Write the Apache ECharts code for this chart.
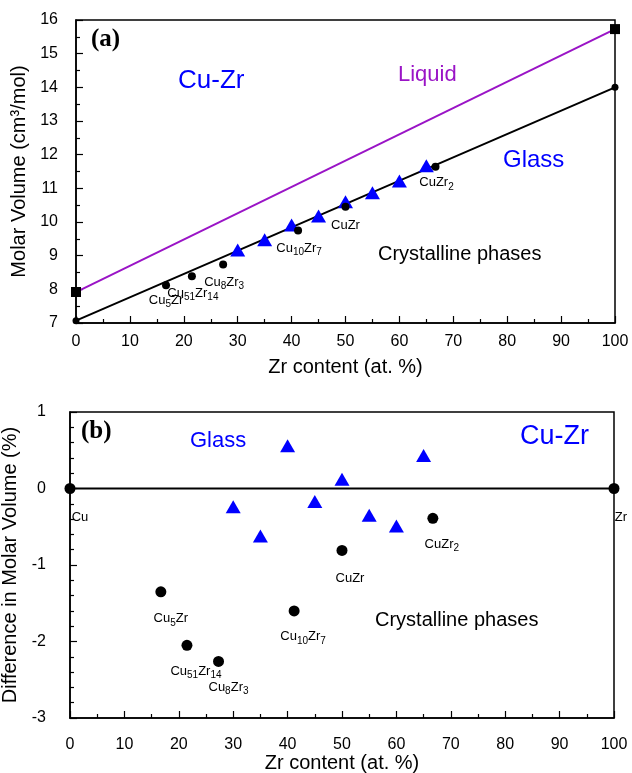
<!DOCTYPE html>
<html>
<head>
<meta charset="utf-8">
<script src="https://cdn.jsdelivr.net/npm/echarts@6/dist/echarts.min.js"></script>
<style>html,body{margin:0;padding:0;background:#fff}#c{width:632px;height:773px}</style>
</head>
<body>
<div id="c"></div>
<script>
// ---- data ----
const xTicks = [0,10,20,30,40,50,60,70,80,90,100];
const elemX = [0, 100];
const elemNames = ['Cu', 'Zr'];
const liquidVol = [7.92, 15.73];
const glassLineVol = [7.07, 14.0];
const elemDiff = [0, 0];

const glassX = [30, 35, 40, 45, 50, 55, 60, 65];
const glassVol = [9.17, 9.47, 9.91, 10.18, 10.60, 10.87, 11.22, 11.67];
const glassDiff = [-0.24, -0.62, 0.56, -0.17, 0.12, -0.35, -0.49, 0.43];

const phaseNames = ['Cu{s|5}Zr', 'Cu{s|51}Zr{s|14}', 'Cu{s|8}Zr{s|3}', 'Cu{s|10}Zr{s|7}', 'CuZr', 'CuZr{s|2}'];
const phaseX = [16.7, 21.5, 27.3, 41.2, 50.0, 66.7];
const phaseVol = [8.12, 8.39, 8.74, 9.75, 10.45, 11.64];
const phaseDiff = [-1.35, -2.05, -2.26, -1.60, -0.81, -0.39];

// label offsets (layout only)
const topLabelOff = [[0,15],[1,17],[1,18],[1,18],[0,19],[1,16]];
const botLabelOff = [[10,27],[9,26],[10,26],[9,26],[8,28],[9,26]];
const elemLabelOff = [[10,29],[7,29]];

const FONT = 'Liberation Sans, Arial, sans-serif';
const SERIF = 'Liberation Serif, Times New Roman, serif';
const BLUE = '#0000ff';
const PURPLE = '#9a14c6';

const rich = {
  s: { fontSize: 10, fontFamily: FONT, color: '#000', padding: [8, 0, 0, 0] }
};

function xAxisCfg(gi, margin, gap) {
  return {
    gridIndex: gi, type: 'value', min: 0, max: 100, interval: 10,
    name: 'Zr content (at. %)', nameLocation: 'middle', nameGap: gap,
    nameTextStyle: { fontFamily: FONT, fontSize: 20, color: '#000' },
    axisLine: { onZero: false, lineStyle: { color: '#000', width: 1.5 } },
    axisTick: { inside: true, length: 7, lineStyle: { color: '#000', width: 1.2 } },
    minorTick: { show: true, splitNumber: 2, length: 4, lineStyle: { color: '#000', width: 1.2 } },
    axisLabel: { fontFamily: FONT, fontSize: 16, color: '#000', margin: margin },
    splitLine: { show: false }
  };
}

function yAxisCfg(gi, min, max, name, gap, minorSplit, margin) {
  return {
    gridIndex: gi, type: 'value', min: min, max: max, interval: 1,
    name: name, nameLocation: 'middle', nameGap: gap,
    nameTextStyle: { fontFamily: FONT, fontSize: 20, color: '#000' },
    axisLine: { onZero: false, lineStyle: { color: '#000', width: 1.5 } },
    axisTick: { inside: true, length: 7, lineStyle: { color: '#000', width: 1.2 } },
    minorTick: { show: true, splitNumber: minorSplit, length: 4, lineStyle: { color: '#000', width: 1.2 } },
    axisLabel: { fontFamily: FONT, fontSize: 16, color: '#000', margin: margin },
    splitLine: { show: false }
  };
}

const solid = (c) => ({ color: c, opacity: 1 });

const chart = echarts.init(document.getElementById('c'), null, { renderer: 'canvas' });
chart.setOption({
  animation: false,
  backgroundColor: '#fff',
  grid: [
    { left: 76, top: 20, width: 539, height: 303, show: true, borderColor: '#000', borderWidth: 1.5, outerBoundsMode: 'none', containLabel: false },
    { left: 70, top: 412, width: 544, height: 306, show: true, borderColor: '#000', borderWidth: 1.5, outerBoundsMode: 'none', containLabel: false }
  ],
  xAxis: [ xAxisCfg(0, 11, 34), xAxisCfg(1, 19, 34) ],
  yAxis: [
    yAxisCfg(0, 7, 16, 'Molar Volume (cm³/mol)', 43, 2, 18),
    yAxisCfg(1, -3, 1, 'Difference in Molar Volume (%)', 37, 5, 24)
  ],
  series: [
    // ---- panel (a) ----
    { type: 'line', xAxisIndex: 0, yAxisIndex: 0, data: elemX.map((x, i) => [x, liquidVol[i]]),
      symbol: 'none', lineStyle: { color: PURPLE, width: 2 }, z: 2 },
    { type: 'line', xAxisIndex: 0, yAxisIndex: 0, data: elemX.map((x, i) => [x, glassLineVol[i]]),
      symbol: 'none', lineStyle: { color: '#000', width: 2 }, z: 2 },
    { type: 'scatter', xAxisIndex: 0, yAxisIndex: 0, data: elemX.map((x, i) => [x, liquidVol[i]]),
      symbol: 'rect', symbolSize: 10, itemStyle: solid('#000'), z: 5 },
    { type: 'scatter', xAxisIndex: 0, yAxisIndex: 0, data: elemX.map((x, i) => [x, glassLineVol[i]]),
      symbol: 'circle', symbolSize: 7, itemStyle: solid('#000'), z: 5 },
    { type: 'scatter', xAxisIndex: 0, yAxisIndex: 0, data: glassX.map((x, i) => [x, glassVol[i]]),
      symbol: 'triangle', symbolSize: [15, 13], itemStyle: solid(BLUE), z: 4 },
    { type: 'scatter', xAxisIndex: 0, yAxisIndex: 0,
      data: phaseX.map((x, i) => ({ value: [x, phaseVol[i]],
        label: { show: true, formatter: phaseNames[i], position: 'inside', offset: topLabelOff[i] } })),
      symbol: 'circle', symbolSize: 8, itemStyle: solid('#000'), z: 5,
      label: { fontFamily: FONT, fontSize: 13, color: '#000', rich: rich } },
    // ---- panel (b) ----
    { type: 'line', xAxisIndex: 1, yAxisIndex: 1, data: elemX.map((x, i) => [x, elemDiff[i]]),
      symbol: 'none', lineStyle: { color: '#000', width: 2 }, z: 2 },
    { type: 'scatter', xAxisIndex: 1, yAxisIndex: 1,
      data: elemX.map((x, i) => ({ value: [x, elemDiff[i]],
        label: { show: true, formatter: elemNames[i], position: 'inside', offset: elemLabelOff[i] } })),
      symbol: 'circle', symbolSize: 11, itemStyle: solid('#000'), z: 5,
      label: { fontFamily: FONT, fontSize: 13, color: '#000' } },
    { type: 'scatter', xAxisIndex: 1, yAxisIndex: 1, data: glassX.map((x, i) => [x, glassDiff[i]]),
      symbol: 'triangle', symbolSize: [15, 13], itemStyle: solid(BLUE), z: 4 },
    { type: 'scatter', xAxisIndex: 1, yAxisIndex: 1,
      data: phaseX.map((x, i) => ({ value: [x, phaseDiff[i]],
        label: { show: true, formatter: phaseNames[i], position: 'inside', offset: botLabelOff[i] } })),
      symbol: 'circle', symbolSize: 11, itemStyle: solid('#000'), z: 5,
      label: { fontFamily: FONT, fontSize: 13, color: '#000', rich: rich } }
  ],
  graphic: [
    { type: 'text', left: 91, top: 27, style: { text: '(a)', font: 'bold 25px ' + SERIF, fill: '#000' } },
    { type: 'text', left: 178, top: 68, style: { text: 'Cu-Zr', font: '26px ' + FONT, fill: BLUE } },
    { type: 'text', left: 398, top: 64, style: { text: 'Liquid', font: '22px ' + FONT, fill: PURPLE } },
    { type: 'text', left: 503, top: 148, style: { text: 'Glass', font: '24px ' + FONT, fill: BLUE } },
    { type: 'text', left: 378, top: 244, style: { text: 'Crystalline phases', font: '20px ' + FONT, fill: '#000' } },
    { type: 'text', left: 81, top: 419, style: { text: '(b)', font: 'bold 25px ' + SERIF, fill: '#000' } },
    { type: 'text', left: 190, top: 430, style: { text: 'Glass', font: '22px ' + FONT, fill: BLUE } },
    { type: 'text', left: 520, top: 423, style: { text: 'Cu-Zr', font: '27px ' + FONT, fill: BLUE } },
    { type: 'text', left: 375, top: 610, style: { text: 'Crystalline phases', font: '20px ' + FONT, fill: '#000' } }
  ]
});
</script>
</body>
</html>
